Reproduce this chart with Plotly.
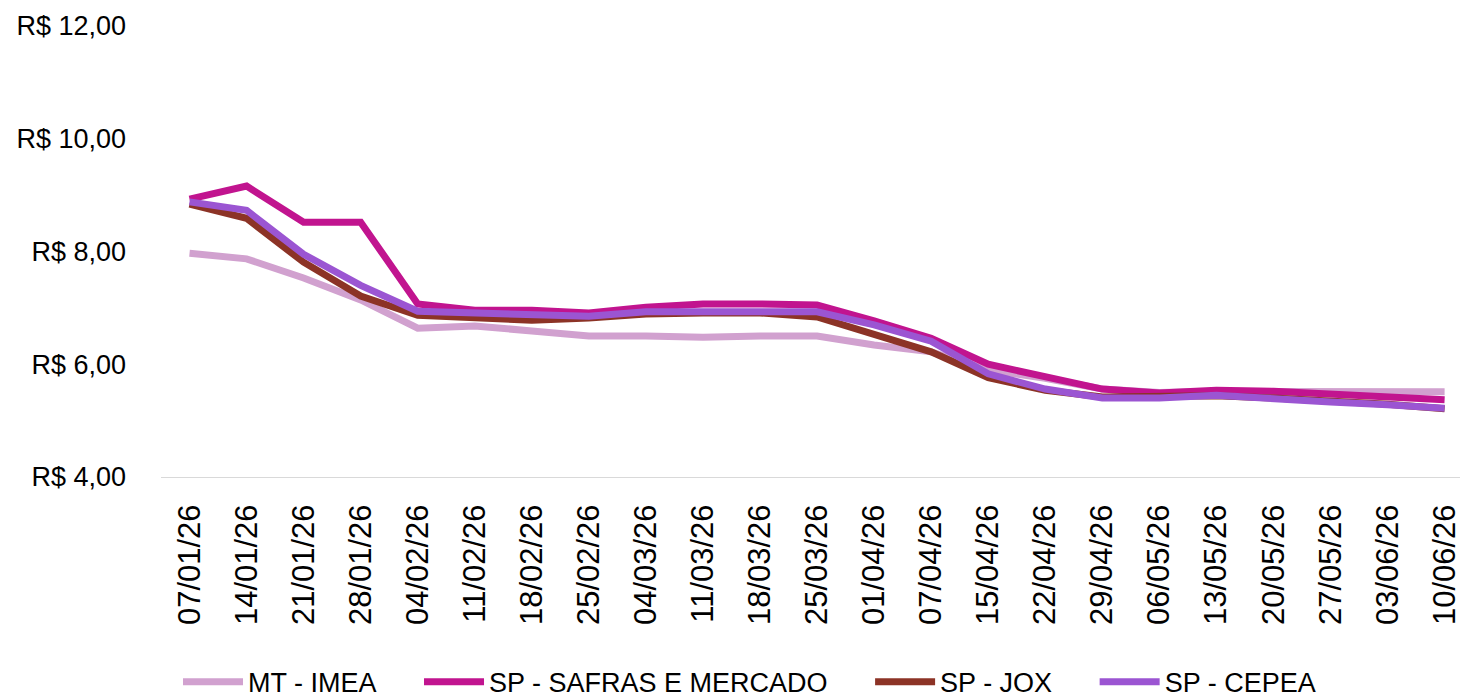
import plotly.graph_objects as go

dates = ["07/01/26", "14/01/26", "21/01/26", "28/01/26", "04/02/26", "11/02/26", "18/02/26",
         "25/02/26", "04/03/26", "11/03/26", "18/03/26", "25/03/26", "01/04/26", "07/04/26",
         "15/04/26", "22/04/26", "29/04/26", "06/05/26", "13/05/26", "20/05/26", "27/05/26",
         "03/06/26", "10/06/26"]

mt_imea = [7.97, 7.87, 7.53, 7.14, 6.64, 6.68, 6.59, 6.50, 6.50, 6.48, 6.50, 6.50, 6.34, 6.22,
           5.90, 5.75, 5.56, 5.50, 5.52, 5.52, 5.52, 5.52, 5.51]
sp_safras = [8.93, 9.16, 8.52, 8.52, 7.07, 6.96, 6.96, 6.91, 7.01, 7.07, 7.07, 7.05, 6.77, 6.46,
             6.00, 5.77, 5.56, 5.49, 5.54, 5.52, 5.47, 5.40, 5.37]
sp_jox = [8.84, 8.59, 7.81, 7.21, 6.87, 6.82, 6.78, 6.82, 6.89, 6.91, 6.91, 6.84, 6.54, 6.22,
          5.76, 5.54, 5.42, 5.42, 5.44, 5.40, 5.35, 5.29, 5.21]
sp_cepea = [8.88, 8.73, 7.95, 7.40, 6.94, 6.91, 6.87, 6.85, 6.93, 6.94, 6.94, 6.93, 6.70, 6.41,
            5.83, 5.56, 5.40, 5.40, 5.45, 5.38, 5.33, 5.28, 5.22]

series = [
    ("MT - IMEA", mt_imea, "#D1A1CF"),
    ("SP - SAFRAS E MERCADO", sp_safras, "#C1148F"),
    ("SP - JOX", sp_jox, "#8C3326"),
    ("SP - CEPEA", sp_cepea, "#9B55D2"),
]

font_family = "Liberation Sans, Arial, sans-serif"
pad = "\u00a0" * 5

fig = go.Figure()
for name, vals, color in series:
    fig.add_trace(go.Scatter(x=dates, y=vals, name=name + pad, mode="lines",
                             line=dict(color=color, width=7)))

fig.update_layout(
    width=1460, height=696,
    margin=dict(l=161, r=0, t=26, b=219, autoexpand=False),
    plot_bgcolor="white", paper_bgcolor="white",
    separators=",.",
    font=dict(family=font_family, size=27, color="#000000"),
    showlegend=True,
    legend=dict(orientation="h", xref="container", x=178 / 1460, xanchor="left",
                yref="container", y=0.02, yanchor="middle",
                font=dict(size=27, color="#000000"), itemwidth=60,
                bgcolor="rgba(0,0,0,0)"),
)
fig.update_xaxes(type="category", range=[-0.5, 22.27], tickangle=-90,
                 showgrid=False, showline=True, linecolor="#D9D9D9", linewidth=1,
                 ticks="", ticklabelstandoff=14, zeroline=False, automargin=False,
                 tickfont=dict(size=31, family=font_family))
fig.update_yaxes(range=[4, 12], dtick=2, tickprefix="R$ ", tickformat=".2f",
                 showgrid=False, showline=False, zeroline=False, ticks="", automargin=False,
                 ticklabelstandoff=34, tickfont=dict(size=27, family=font_family))

fig.write_html("out.html", config={"displayModeBar": False},
               post_script="document.body.style.margin='0';")
